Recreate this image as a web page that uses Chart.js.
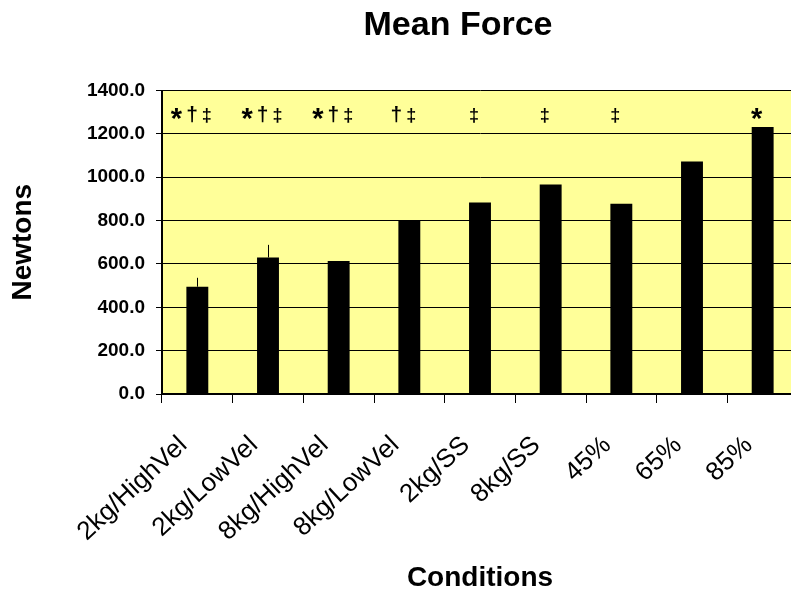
<!DOCTYPE html>
<html><head><meta charset="utf-8">
<script src="https://cdn.jsdelivr.net/npm/chart.js@4/dist/chart.umd.min.js"></script>
<style>
html,body{margin:0;padding:0;overflow:hidden;background:#fff;width:791px;height:592px}
#wrap{position:absolute;left:0;top:0;width:916px;height:592px}
</style>
</head><body><div id="wrap"><canvas id="c"></canvas></div>
<script>
// ---- data ----
const categories = ["2kg/HighVel","2kg/LowVel","8kg/HighVel","8kg/LowVel","2kg/SS","8kg/SS","45%","65%","85%"];
const meanForce = [495, 630, 613, 802, 883, 966, 878, 1072, 1232];
const errorPlus = [41, 58, 0, 0, 0, 0, 0, 0, 0];
const significance = ["*†‡","*†‡","*†‡","†‡","‡","‡","‡","","*"];
const yTicks = [0, 200, 400, 600, 800, 1000, 1200, 1400];

const FONT = "'Liberation Sans', Arial, Helvetica, sans-serif";

const bgPlugin = {
  id: 'plotBg',
  beforeDraw(chart) {
    const {ctx, chartArea: a} = chart;
    ctx.save();
    ctx.fillStyle = '#fff';
    ctx.fillRect(0, 0, chart.width, chart.height);
    ctx.fillStyle = '#FFFF99';
    ctx.fillRect(a.left, a.top, a.right - a.left, a.bottom - a.top);
    ctx.restore();
  }
};

const errPlugin = {
  id: 'errBars',
  afterDatasetsDraw(chart) {
    const {ctx} = chart;
    const ys = chart.scales.y;
    const meta = chart.getDatasetMeta(0);
    ctx.save();
    ctx.strokeStyle = '#000';
    ctx.lineWidth = 1;
    errorPlus.forEach((e, i) => {
      if (!e) return;
      const bar = meta.data[i];
      const x = Math.round(bar.x) + 0.5;
      const yTop = ys.getPixelForValue(meanForce[i] + e);
      ctx.beginPath();
      ctx.moveTo(x, bar.y);
      ctx.lineTo(x, yTop);
      ctx.stroke();
    });
    ctx.restore();
  }
};

const glyphStyle = {'*': {size: 29, dy: 7}, '†': {size: 21, dy: 0}, '‡': {size: 18, dy: 0}};
const sigPlugin = {
  id: 'sigMarks',
  afterDraw(chart) {
    const {ctx} = chart;
    const xs = chart.scales.x, ys = chart.scales.y;
    const baseY = ys.getPixelForValue(1260);
    const gap = 4;
    ctx.save();
    ctx.fillStyle = '#000';
    ctx.textBaseline = 'alphabetic';
    ctx.textAlign = 'left';
    significance.forEach((s, i) => {
      if (!s) return;
      const chars = Array.from(s);
      const widths = chars.map(c => {
        ctx.font = 'bold ' + glyphStyle[c].size + 'px ' + FONT;
        return ctx.measureText(c).width;
      });
      const total = widths.reduce((a, b) => a + b, 0) + gap * (chars.length - 1);
      let x = xs.getPixelForValue(i) - 6 - total / 2;
      chars.forEach((c, k) => {
        ctx.font = 'bold ' + glyphStyle[c].size + 'px ' + FONT;
        ctx.fillText(c, x, baseY + glyphStyle[c].dy);
        x += widths[k] + gap;
      });
    });
    ctx.restore();
  }
};

new Chart(document.getElementById('c'), {
  type: 'bar',
  data: {
    labels: categories,
    datasets: [{
      label: 'Mean Force',
      data: meanForce,
      backgroundColor: '#000',
      borderWidth: 0,
      barPercentage: 0.31,
      categoryPercentage: 1
    }]
  },
  options: {
    responsive: true,
    maintainAspectRatio: false,
    devicePixelRatio: 1,
    animation: false,
    layout: {padding: 0},
    plugins: {
      legend: {display: false},
      tooltip: {enabled: false},
      title: {
        display: true,
        text: 'Mean Force',
        color: '#000',
        font: {family: FONT, size: 34, weight: 'bold', lineHeight: 1.2},
        padding: {top: 5, bottom: 44.7}
      }
    },
    scales: {
      x: {
        offset: true,
        grid: {display: true, drawOnChartArea: false, drawTicks: true, tickLength: 9, color: '#000', lineWidth: 1, offset: true},
        border: {display: true, color: '#000', width: 2},
        ticks: {color: '#000', font: {family: FONT, size: 26}, minRotation: 43, maxRotation: 43, padding: 27, labelOffset: -14, autoSkip: false},
        title: {display: true, text: 'Conditions', color: '#000', font: {family: FONT, size: 28, weight: 'bold', lineHeight: 1.2}, padding: {top: 0, bottom: -3}},
        afterFit: s => { s.height = 198; }
      },
      y: {
        min: 0,
        max: 1400,
        afterBuildTicks: s => { s.ticks = yTicks.map(v => ({value: v})); },
        grid: {color: '#000', lineWidth: 1, drawTicks: true, tickLength: 6},
        border: {color: '#000', width: 2},
        ticks: {color: '#000', font: {family: FONT, size: 19, weight: 'bold'}, padding: 11, callback: v => Number(v).toFixed(1)},
        title: {display: true, text: 'Newtons', color: '#000', font: {family: FONT, size: 28, weight: 'bold', lineHeight: 1.2}, padding: {top: 6.5, bottom: 0}},
        afterFit: s => { s.width = 162; }
      },
      pad: {
        type: 'linear',
        position: 'right',
        display: true,
        grid: {display: false},
        border: {display: false},
        ticks: {display: false},
        afterFit: s => { s.width = 118; }
      }
    }
  },
  plugins: [bgPlugin, errPlugin, sigPlugin]
});
</script>
</body></html>
